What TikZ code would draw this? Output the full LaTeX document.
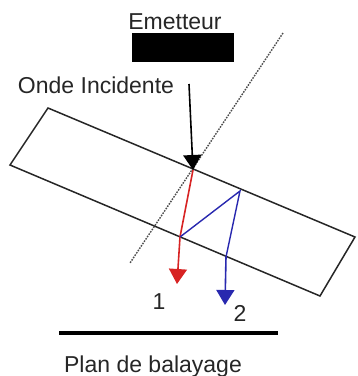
\documentclass[tikz,border=0pt]{standalone}
\usepackage{fontspec}
\setmainfont{Liberation Sans}
\usetikzlibrary{arrows.meta}
\definecolor{rayred}{RGB}{215,35,35}
\definecolor{rayblue}{RGB}{40,40,175}
\begin{document}
\begin{tikzpicture}[x=0.5pt,y=-0.5pt,
  lbl/.style={font=\fontsize{11.5}{13}\selectfont, inner sep=0pt, text=black!85},
  tip/.style={-{Triangle[width=9pt,length=7.5pt]}},
  slab/.style={draw=black!85, line width=0.75pt},
]
\useasboundingbox (0,0) rectangle (358,376);
% slab
\draw[slab] (48,108) -- (355,237) -- (320,296) -- (10,165) -- cycle;
% dotted normal
\draw[dash pattern=on 0.8pt off 0.6pt, black!70, line width=0.7pt] (283,33) -- (130,263);
% labels
\node[lbl] (em) at (175,22) {Emetteur};
\node[fill=black, minimum width=51pt, minimum height=14.5pt, inner sep=0pt] (src) at (183,47.5) {};
\node[lbl] (oi) at (96,85) {Onde Incidente};
% points
\coordinate (a0) at (189,84);
\coordinate (p1) at (193,170);
\coordinate (p2) at (180,237);
\coordinate (p3) at (240,191);
\coordinate (p4) at (226,257);
\coordinate (r1) at (177,284);
\coordinate (b1) at (225,305);
% incident arrow
\draw[tip, black, line width=0.8pt] (a0) -- (p1);
% red ray
\draw[rayred, line width=0.8pt] (p1) -- (p2);
\draw[tip, rayred, line width=0.8pt] (p2) -- (r1);
% blue ray
\draw[rayblue, line width=0.7pt] (p2) -- (p3) -- (p4);
\draw[tip, rayblue, line width=0.8pt] (p4) -- (b1);
% numbers
\node[lbl] (n1) at (159,302) {1};
\node[lbl] (n2) at (240,313) {2};
% scan plane
\coordinate (s1) at (59,333);
\coordinate (s2) at (278,333);
\draw[line width=2pt] (s1) -- (s2);
\node[lbl] (pb) at (153,367) {Plan de balayage};
\end{tikzpicture}
\end{document}
